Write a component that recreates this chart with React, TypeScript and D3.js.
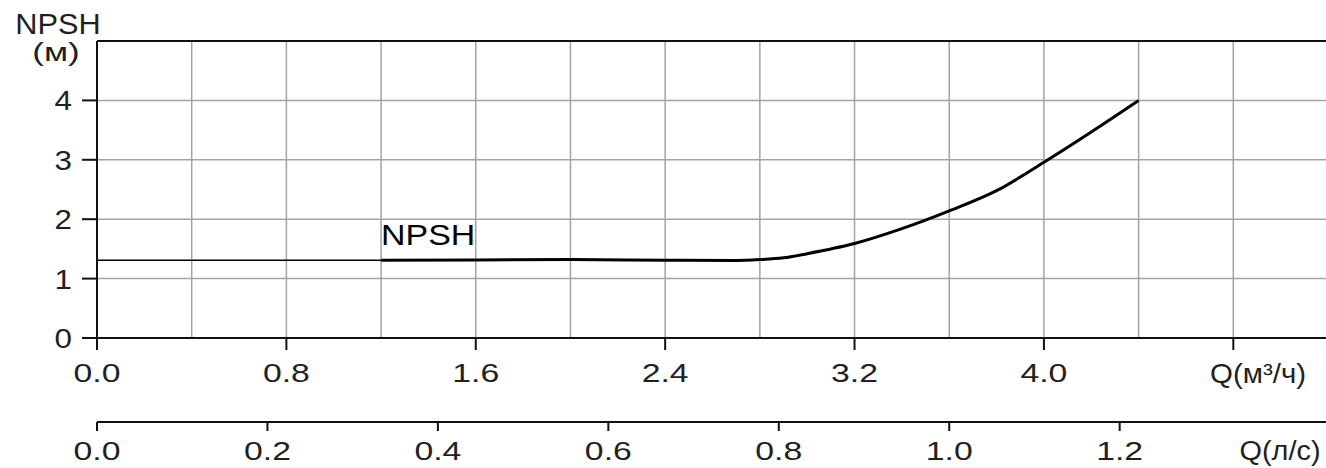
import React from 'react';
import * as d3 from 'd3';

// NPSH curve, Q in m³/h
const qThin = [0, 1.2];
const npshThin = [1.31, 1.31];
const qValues = [1.2, 1.6, 2.0, 2.4, 2.7, 2.8, 2.9, 3.0, 3.2, 3.4, 3.6, 3.8, 4.0, 4.2, 4.4];
const npshValues = [1.31, 1.315, 1.32, 1.31, 1.305, 1.32, 1.35, 1.42, 1.59, 1.84, 2.14, 2.48, 2.96, 3.47, 4.0];

const yTicks = [0, 1, 2, 3, 4];
const xTicksM3h = [0, 0.8, 1.6, 2.4, 3.2, 4.0];
const xGrid = [0.4, 0.8, 1.2, 1.6, 2.0, 2.4, 2.8, 3.2, 3.6, 4.0, 4.4, 4.8, 5.2];
const xTicksLs = [0, 0.2, 0.4, 0.6, 0.8, 1.0, 1.2];

const W = 1326;
const H = 468;
const left = 97;
const top = 41;
const bottom = 338;
const axis2Y = 422;

const font = '"Liberation Sans", Arial, sans-serif';
const ink = '#231f20';

const Label: React.FC<{ x: number; y: number; size: number; sx?: number; anchor?: string; children: React.ReactNode }> = ({ x, y, size, sx = 1, anchor = 'middle', children }) => (
  <text
    transform={`translate(${x},${y}) scale(${sx},1)`}
    fontFamily={font}
    fontSize={size}
    fill={ink}
    textAnchor={anchor}
  >
    {children}
  </text>
);

export default function App() {
  const x = d3.scaleLinear().domain([0, 5.2]).range([left, 1328]);
  const xLs = d3.scaleLinear().domain([0, 5.2 / 3.6]).range([left, 1328]);
  const y = d3.scaleLinear().domain([0, 5]).range([bottom, top]);

  const line = d3.line<[number, number]>().x(d => x(d[0])).y(d => y(d[1]));
  const thin = line(qThin.map((q, i) => [q, npshThin[i]] as [number, number]));
  const thick = line.curve(d3.curveMonotoneX)(qValues.map((q, i) => [q, npshValues[i]] as [number, number]));

  return (
    <svg width={W} height={H} style={{ position: 'absolute', left: 0, top: 0, background: '#fff' }}>
      {/* grid */}
      {xGrid.map(g => (
        <line key={`vg${g}`} x1={x(g)} x2={x(g)} y1={top} y2={bottom} stroke="#a3a3a3" strokeWidth={1.5} />
      ))}
      {yTicks.filter(t => t > 0).map(t => (
        <line key={`hg${t}`} x1={left} x2={W} y1={y(t)} y2={y(t)} stroke="#a3a3a3" strokeWidth={1.5} />
      ))}

      {/* frame */}
      <line x1={left} x2={W} y1={top} y2={top} stroke="#111" strokeWidth={2} />
      <line x1={left} x2={left} y1={top} y2={bottom + 12} stroke="#111" strokeWidth={2} />
      <line x1={82} x2={W} y1={bottom} y2={bottom} stroke="#111" strokeWidth={2} />

      {/* y ticks */}
      {yTicks.map(t => (
        <g key={`yt${t}`}>
          <line x1={82} x2={left} y1={y(t)} y2={y(t)} stroke="#111" strokeWidth={2} />
          <Label x={72} y={y(t) + 10} size={28} sx={1.12} anchor="end">{t}</Label>
        </g>
      ))}

      {/* x ticks m3/h */}
      {[...xTicksM3h, 4.8].map(t => (
        <line key={`xt${t}`} x1={x(t)} x2={x(t)} y1={bottom} y2={bottom + 12} stroke="#111" strokeWidth={2} />
      ))}
      {xTicksM3h.map(t => (
        <Label key={`xl${t}`} x={x(t)} y={382} size={26} sx={1.3}>{t.toFixed(1)}</Label>
      ))}
      <Label x={1258} y={383} size={27} sx={1.09}>Q(м³/ч)</Label>

      {/* second axis l/s */}
      <line x1={left} x2={W} y1={axis2Y} y2={axis2Y} stroke="#111" strokeWidth={2} />
      {xTicksLs.map(t => (
        <g key={`ls${t}`}>
          <line x1={xLs(t)} x2={xLs(t)} y1={axis2Y} y2={axis2Y + 9} stroke="#111" strokeWidth={2} />
          <Label x={xLs(t)} y={460} size={26} sx={1.3}>{t.toFixed(1)}</Label>
        </g>
      ))}
      <Label x={1280} y={460} size={27} sx={1.07}>Q(л/с)</Label>

      {/* axis title */}
      <Label x={58} y={34} size={29} sx={1.06}>NPSH</Label>
      <Label x={56} y={61} size={26} sx={1.35}>(м)</Label>

      {/* curve */}
      <path d={thin ?? ''} fill="none" stroke="#000" strokeWidth={1.5} />
      <path d={thick ?? ''} fill="none" stroke="#000" strokeWidth={3} strokeLinejoin="round" />
      <text transform={`translate(${x(1.2)},245) scale(1.13,1)`} fontFamily={font} fontSize={30} fill="#000">NPSH</text>
    </svg>
  );
}
